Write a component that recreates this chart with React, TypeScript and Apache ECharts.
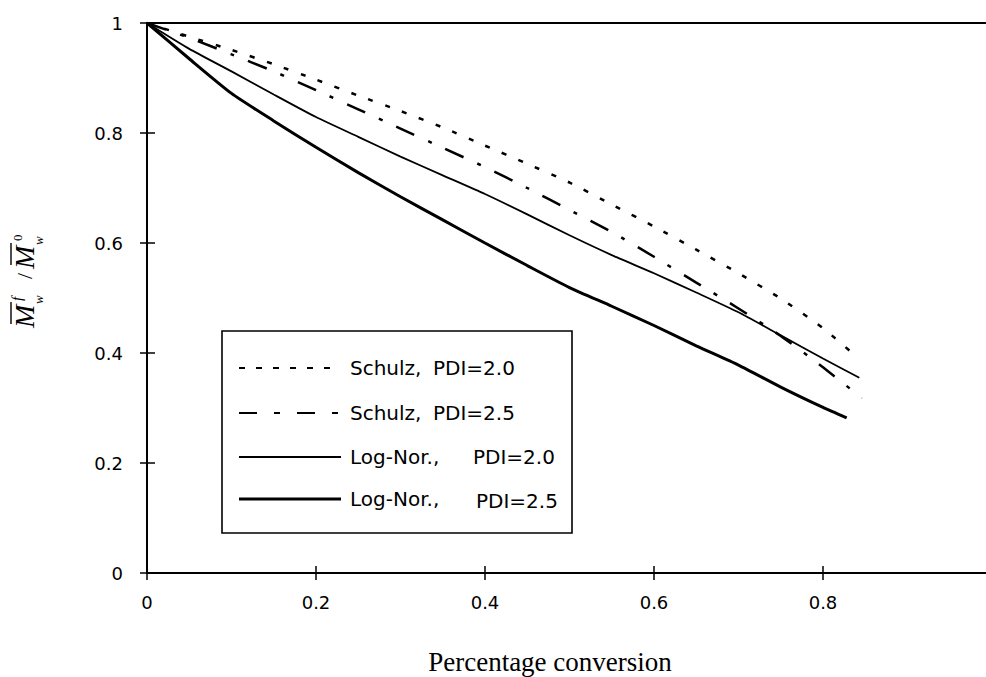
import React, { useEffect, useRef } from "react";
import * as echarts from "echarts";

const conversion = [0, 0.05, 0.1, 0.15, 0.2, 0.25, 0.3, 0.35, 0.4, 0.45, 0.5, 0.55, 0.6, 0.65, 0.7, 0.75, 0.8];

const schulz20 = [1, 0.975, 0.951, 0.925, 0.897, 0.868, 0.84, 0.81, 0.777, 0.744, 0.71, 0.67, 0.63, 0.588, 0.545, 0.499, 0.445];
const schulz20End = [0.84, 0.393];

const schulz25 = [1, 0.973, 0.943, 0.912, 0.878, 0.843, 0.808, 0.773, 0.738, 0.7, 0.66, 0.62, 0.575, 0.528, 0.481, 0.431, 0.374];
const schulz25End = [0.846, 0.318];

const logNor20 = [1, 0.953, 0.912, 0.87, 0.829, 0.793, 0.757, 0.723, 0.689, 0.652, 0.614, 0.578, 0.545, 0.51, 0.474, 0.432, 0.39];
const logNor20End = [0.843, 0.355];

const logNor25 = [1, 0.935, 0.872, 0.822, 0.774, 0.728, 0.684, 0.642, 0.6, 0.559, 0.519, 0.485, 0.45, 0.413, 0.378, 0.338, 0.301];
const logNor25End = [0.828, 0.282];

const legendNames = ["Schulz,", "Schulz,", "Log-Nor.,", "Log-Nor.,"];
const legendPdi = ["PDI=2.0", "PDI=2.5", "PDI=2.0", "PDI=2.5"];

const xTickLabels = ["0", "0.2", "0.4", "0.6", "0.8", "1"];
const yTickLabels = ["0", "0.2", "0.4", "0.6", "0.8", "1"];

const pts = (vals: number[], end: number[]) => {
  const out = vals.map((v, i) => [conversion[i], v]);
  out.push(end);
  return out;
};

const SANS = "DejaVu Sans";
const SERIF = "Liberation Serif";

const styles = [
  { width: 2.5, type: [5, 13] },
  { width: 2.5, type: [20, 15, 4, 15] },
  { width: 1.8, type: "solid" },
  { width: 3, type: "solid" },
];
const legendDash = [[6, 11], [18, 17, 6, 17], null, null];
const legendWidth = [2, 2, 1.8, 3];
const legendRowY = [368, 413, 457, 499];
const legendPdiX = [433, 433, 473, 476];

export default function App() {
  const ref = useRef<HTMLDivElement>(null);
  useEffect(() => {
    if (!ref.current) return;
    const chart = echarts.init(ref.current, null, { renderer: "svg" });
    const data = [
      pts(schulz20, schulz20End),
      pts(schulz25, schulz25End),
      pts(logNor20, logNor20End),
      pts(logNor25, logNor25End),
    ];
    const fmt = (labels: string[]) => (v: number) => labels[Math.round(v * 5)] ?? "";

    const legendEls: any[] = [
      {
        type: "rect",
        shape: { x: 222, y: 331, width: 350, height: 202 },
        style: { fill: "#fff", stroke: "#000", lineWidth: 1.6 },
        z: 10,
      },
    ];
    legendRowY.forEach((y, i) => {
      legendEls.push({
        type: "line",
        shape: { x1: 239, y1: y, x2: 341, y2: y },
        style: { stroke: "#000", lineWidth: legendWidth[i], lineDash: legendDash[i] || undefined },
        z: 11,
      });
      legendEls.push({
        type: "text",
        x: 350,
        y: y,
        style: {
          text: legendNames[i],
          fontSize: 20,
          fontFamily: SANS,
          fill: "#000",
          textAlign: "left",
          textVerticalAlign: "middle",
        },
        z: 11,
      });
      legendEls.push({
        type: "text",
        x: legendPdiX[i],
        y: y + (i === 3 ? 2 : 0),
        style: {
          text: legendPdi[i],
          fontSize: 20,
          fontFamily: SANS,
          fill: "#000",
          textAlign: "left",
          textVerticalAlign: "middle",
        },
        z: 11,
      });
    });

    const it = { fontFamily: SERIF, fontStyle: "italic", fill: "#000", textAlign: "left", textVerticalAlign: "middle" };
    const yName = {
      type: "group",
      x: 32,
      y: 277,
      rotation: Math.PI / 2,
      children: [
        { type: "text", x: -51, y: -8, style: { ...it, text: "M", fontSize: 28 } },
        { type: "line", shape: { x1: -47, y1: -21, x2: -25, y2: -21 }, style: { stroke: "#000", lineWidth: 1.4 } },
        { type: "text", x: -24, y: -15, style: { ...it, text: "f", fontSize: 15 } },
        { type: "text", x: -27, y: 6, style: { ...it, text: "w", fontSize: 13 } },
        { type: "text", x: 1, y: -8, style: { ...it, fontStyle: "normal", text: "/", fontSize: 22, textAlign: "center" } },
        { type: "text", x: 8, y: -8, style: { ...it, text: "M", fontSize: 28 } },
        { type: "line", shape: { x1: 12, y1: -21, x2: 34, y2: -21 }, style: { stroke: "#000", lineWidth: 1.4 } },
        { type: "text", x: 36, y: -15, style: { ...it, fontStyle: "normal", text: "0", fontSize: 13 } },
        { type: "text", x: 32, y: 6, style: { ...it, text: "w", fontSize: 13 } },
      ],
    };

    const xName = {
      type: "text",
      x: 550,
      y: 662,
      style: {
        text: "Percentage conversion",
        fontSize: 27,
        fontFamily: SERIF,
        fill: "#000",
        textAlign: "center",
        textVerticalAlign: "middle",
      },
    };

    const axisBase = {
      type: "value",
      min: 0,
      max: 1,
      interval: 0.2,
      splitLine: { show: false },
    };

    chart.setOption({
      animation: false,
      backgroundColor: "#fff",
      grid: {
        left: 147,
        top: 23,
        right: -6,
        bottom: 104,
        containLabel: false,
        outerBoundsMode: "none",
        show: true,
        borderColor: "#000",
        borderWidth: 2,
        backgroundColor: "transparent",
      },
      xAxis: [
        {
          ...axisBase,
          position: "bottom",
          axisLine: { show: true, lineStyle: { color: "#000", width: 2 } },
          axisTick: { show: true, inside: false, length: 7, lineStyle: { color: "#000", width: 1.5 } },
          axisLabel: { show: true, color: "#000", fontSize: 18, fontFamily: SANS, margin: 20, formatter: fmt(xTickLabels), showMaxLabel: true, showMinLabel: true, hideOverlap: false },
        },
        {
          ...axisBase,
          position: "bottom",
          axisLine: { show: false },
          axisTick: { show: true, inside: true, length: 7, lineStyle: { color: "#000", width: 1.5 } },
          axisLabel: { show: false },
        },
      ],
      yAxis: [
        {
          ...axisBase,
          position: "left",
          axisLine: { show: true, lineStyle: { color: "#000", width: 2 } },
          axisTick: { show: true, inside: false, length: 7, lineStyle: { color: "#000", width: 1.5 } },
          axisLabel: { show: true, color: "#000", fontSize: 18, fontFamily: SANS, margin: 24, formatter: fmt(yTickLabels) },
        },
        {
          ...axisBase,
          position: "left",
          axisLine: { show: false },
          axisTick: { show: true, inside: true, length: 8, lineStyle: { color: "#000", width: 1.5 } },
          axisLabel: { show: false },
        },
      ],
      series: data.map((d, i) => ({
        type: "line",
        name: legendNames[i] + " " + legendPdi[i],
        data: d,
        xAxisIndex: 0,
        yAxisIndex: 0,
        showSymbol: false,
        symbol: "none",
        smooth: 0.2,
        lineStyle: { color: "#000", width: styles[i].width, type: styles[i].type as any, cap: "butt" },
        silent: true,
      })),
      graphic: [...legendEls, yName, xName],
    });
    return () => chart.dispose();
  }, []);
  return <div ref={ref} style={{ position: "absolute", left: 0, top: 0, width: 986, height: 677 }} />;
}
